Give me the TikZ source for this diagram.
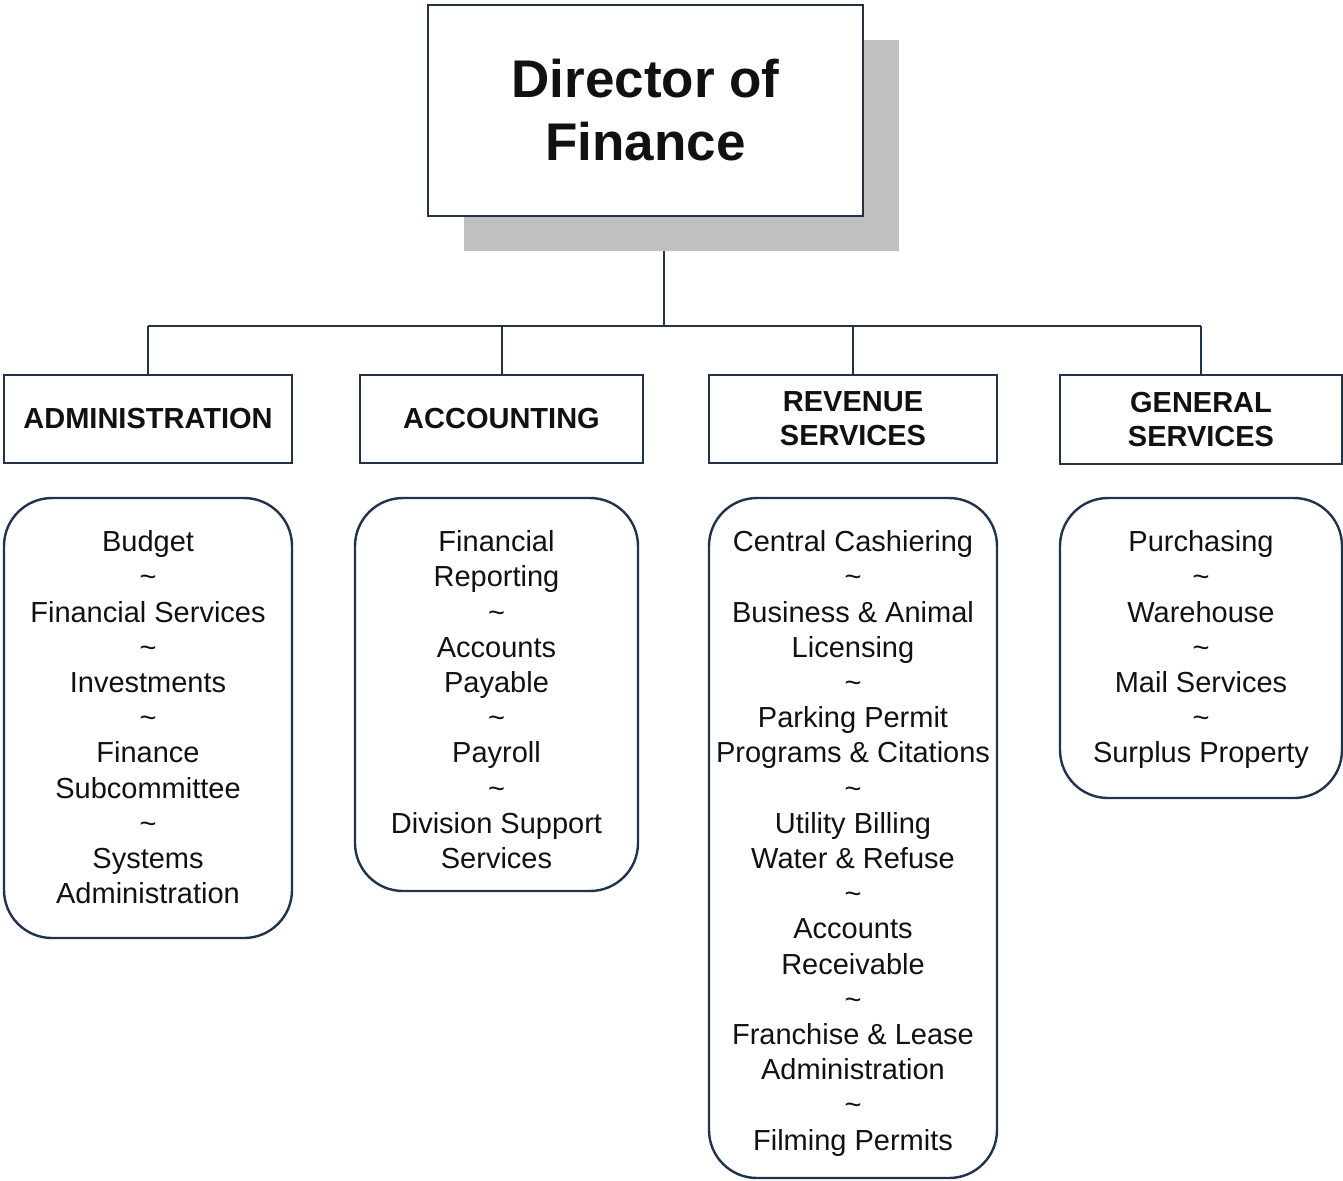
\documentclass[tikz,border=0pt]{standalone}
\usepackage{fontspec}
\setmainfont{Liberation Sans}
\usetikzlibrary{positioning,shadows,backgrounds}
\definecolor{navy}{HTML}{1F3350}
\definecolor{shade}{HTML}{C0C0C0}
\definecolor{ink}{HTML}{111111}
\tikzset{
	dept/.style={draw=navy, line width=1.2pt, fill=white, text=ink, align=center, inner sep=0pt, font=\fontsize{14.5}{17}\selectfont\bfseries},
	unitbox/.style={draw=navy, line width=1.2pt, rounded corners=24pt},
	unittext/.style={text=ink, align=center, inner sep=0pt, font=\fontsize{14.5}{17.6}\selectfont},
	link/.style={draw=navy, line width=1pt}
}
\newcommand{\sep}{\\\textasciitilde\\}
\begin{document}
\begin{tikzpicture}[x=0.5pt,y=-0.5pt]
	\useasboundingbox (0,0) rectangle (1343,1180);
	% director
	\node[dept, minimum width=217.5pt, minimum height=105.5pt, font=\fontsize{26.5}{31.5}\selectfont\bfseries,
		drop shadow={shadow xshift=18pt, shadow yshift=-17.5pt, fill=shade, opacity=1}] (dir) at (645.5,110.5) {Director of\\Finance};
	% divisions
	\node[dept, minimum width=144pt, minimum height=44pt] (adm) at (148,419) {ADMINISTRATION};
	\node[dept, minimum width=141.5pt, minimum height=44pt] (acc) at (501.5,419) {ACCOUNTING};
	\node[dept, minimum width=144pt, minimum height=44pt] (rev) at (853,419) {REVENUE\\SERVICES};
	\node[dept, minimum width=141pt, minimum height=44.5pt] (gen) at (1201,419.5) {GENERAL\\SERVICES};
	\coordinate (bus) at (664,326);
	\begin{scope}[on background layer]
		\draw[link] (dir.south -| bus) -- (bus);
		\draw[link] (adm.north |- bus) -- (gen.north |- bus);
		\foreach \d in {adm,acc,rev,gen}
			\draw[link] (\d.north) -- (\d.north |- bus);
	\end{scope}
	% units
	\node[unitbox, minimum width=144pt, minimum height=220pt] (admbox) at (148,718) {};
	\node[unittext, below=16.75pt of admbox.north] (admlist) {Budget\sep Financial Services\sep Investments\sep Finance\\Subcommittee\sep Systems\\Administration};
	\node[unitbox, minimum width=141.5pt, minimum height=196.5pt] (accbox) at (496.5,694.5) {};
	\node[unittext, below=16.75pt of accbox.north] (acclist) {Financial\\Reporting\sep Accounts\\Payable\sep Payroll\sep Division Support\\Services};
	\node[unitbox, minimum width=144pt, minimum height=340pt] (revbox) at (853,838) {};
	\node[unittext, below=16.75pt of revbox.north] (revlist) {Central Cashiering\sep Business \& Animal\\Licensing\sep Parking Permit\\Programs \& Citations\sep Utility Billing\\Water \& Refuse\sep Accounts\\Receivable\sep Franchise \& Lease\\Administration\sep Filming Permits};
	\node[unitbox, minimum width=141pt, minimum height=150pt] (genbox) at (1201,648) {};
	\node[unittext, below=16.75pt of genbox.north] (genlist) {Purchasing\sep Warehouse\sep Mail Services\sep Surplus Property};
\end{tikzpicture}
\end{document}
